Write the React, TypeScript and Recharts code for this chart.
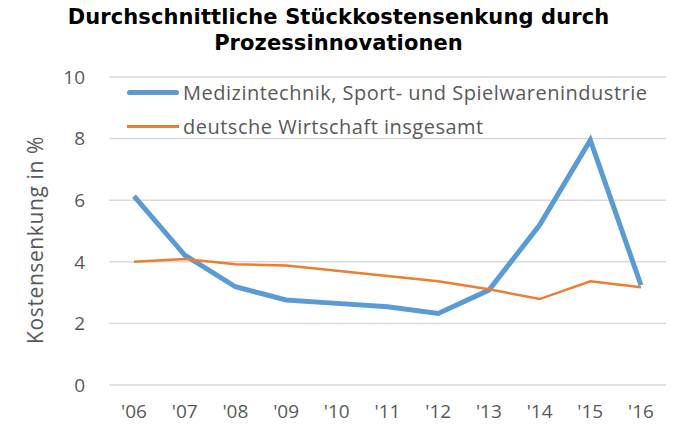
import React from "react";
import { LineChart, Line, XAxis, YAxis, CartesianGrid } from "recharts";

const years = ["'06", "'07", "'08", "'09", "'10", "'11", "'12", "'13", "'14", "'15", "'16"];
const medizin = [6.13, 4.22, 3.19, 2.76, 2.65, 2.54, 2.32, 3.08, 5.19, 7.95, 3.24];
const deutsch = [4.0, 4.09, 3.92, 3.88, 3.71, 3.54, 3.37, 3.11, 2.79, 3.37, 3.17];
const yTicks = [0, 2, 4, 6, 8, 10];

const seriesNames = ["Medizintechnik, Sport- und Spielwarenindustrie", "deutsche Wirtschaft insgesamt"];

const data = years.map((y, i) => ({ year: y, med: medizin[i], de: deutsch[i] }));

const font = "'Open Sans', sans-serif";

export default function App() {
  return (
    <div style={{ position: "absolute", left: 0, top: 0, width: 677, height: 430, background: "#fff" }}>
      <div
        style={{
          position: "absolute",
          left: 0,
          top: 4,
          width: 677,
          textAlign: "center",
          fontFamily: "'DejaVu Sans', sans-serif",
          fontWeight: "bold",
          fontSize: 21,
          letterSpacing: 0.1,
          lineHeight: "26px",
          color: "#000",
        }}
      >
        Durchschnittliche Stückkostensenkung durch
        <br />
        Prozessinnovationen
      </div>
      <div
        style={{
          position: "absolute",
          left: 35,
          top: 240,
          transform: "translate(-50%, -50%) rotate(-90deg)",
          fontFamily: font,
          fontSize: 21,
          letterSpacing: 0.6,
          color: "#595959",
          whiteSpace: "nowrap",
        }}
      >
        Kostensenkung in %
      </div>
      <LineChart width={677} height={430} data={data} margin={{ top: 77, right: 11, bottom: 5, left: 49 }}>
        <CartesianGrid horizontal vertical={false} stroke="#D9D9D9" strokeWidth={1.5} />
        <XAxis
          dataKey="year"
          axisLine={false}
          tickLine={false}
          height={40}
          padding={{ left: 25, right: 25 }}
          tick={{ fill: "#595959", fontSize: 19, fontFamily: font }}
          tickMargin={14}
          interval={0}
        />
        <YAxis
          domain={[0, 10]}
          ticks={yTicks}
          width={60}
          axisLine={false}
          tickLine={false}
          tick={{ fill: "#595959", fontSize: 19, fontFamily: font }}
          tickMargin={18}
        />
        <Line dataKey="med" stroke="#5B9BD5" strokeWidth={5} dot={false} isAnimationActive={false} />
        <Line dataKey="de" stroke="#ED7D31" strokeWidth={2.5} dot={false} isAnimationActive={false} />
      </LineChart>
      <div
        style={{
          position: "absolute",
          left: 127,
          top: 75,
          fontFamily: font,
          fontSize: 20,
          letterSpacing: 0.5,
          color: "#595959",
        }}
      >
        <div style={{ display: "flex", alignItems: "center", height: 34, whiteSpace: "nowrap" }}>
          <div style={{ width: 52, height: 5, borderRadius: 3, background: "#5B9BD5", marginRight: 4 }} />
          <span>{seriesNames[0]}</span>
        </div>
        <div style={{ display: "flex", alignItems: "center", height: 34, whiteSpace: "nowrap" }}>
          <div style={{ width: 52, height: 3, background: "#ED7D31", marginRight: 4 }} />
          <span>{seriesNames[1]}</span>
        </div>
      </div>
    </div>
  );
}
